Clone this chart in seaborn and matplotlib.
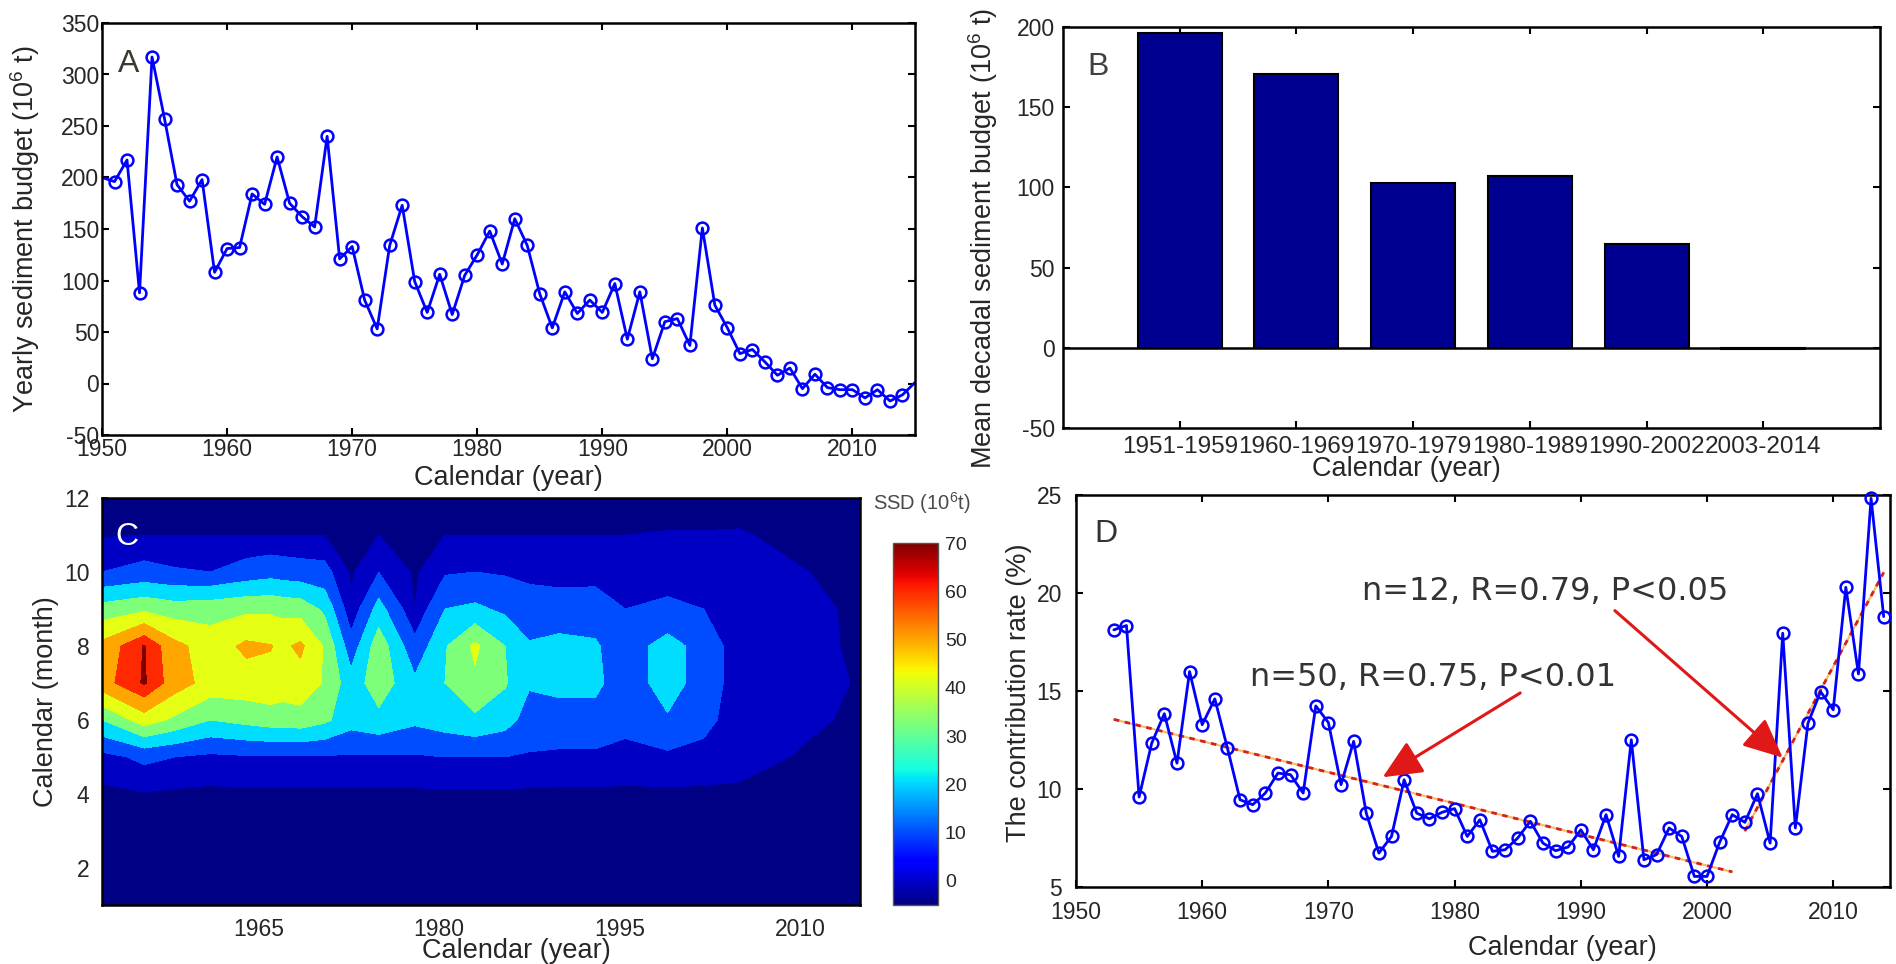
import numpy as np
import pandas as pd
import matplotlib
matplotlib.use("Agg")
import matplotlib.pyplot as plt
import seaborn as sns
from matplotlib.colors import Normalize
from matplotlib.cm import ScalarMappable

# ---------------- data ----------------
# Panel A: yearly sediment budget (10^6 t)
years_a = list(range(1950, 2016))
budget_a = [200, 196, 217, 88, 317, 257, 193, 177, 198, 108,
            131, 132, 184, 174, 220, 175, 162, 152, 240, 121,
            133, 81, 53, 134, 173, 99, 69, 106, 67, 105,
            125, 148, 116, 160, 134, 87, 54, 89, 68, 81,
            69, 97, 43, 89, 24, 60, 63, 37, 151, 76,
            54, 29, 33, 21, 8, 15, -5, 9, -4, -6,
            -6, -14, -6, -17, -11, 1]

# Panel B: mean decadal sediment budget
periods_b = ["1951-1959", "1960-1969", "1970-1979", "1980-1989", "1990-2002", "2003-2014"]
budget_b = [196, 171, 103, 107, 65, -1]

# Panel C: monthly SSD (10^6 t), rows = months 1..12, columns = years_c
years_c = [1952, 1955.5, 1958, 1961, 1964, 1966, 1967, 1968.5, 1970.5, 1972.7, 1975, 1978,
           1980.5, 1983, 1985.5, 1987.5, 1990, 1993, 1995.5, 1999, 2002, 2005, 2010, 2015]
months_c = [1, 2, 3, 4, 5, 6, 7, 8, 9, 10, 11, 12]
ssd_m01 = [0.5, 0.5, 0.5, 0.5, 0.5, 0.5, 0.5, 0.5, 0.5, 0.5, 0.5, 0.5, 0.5, 0.5, 0.5, 0.5, 0.5, 0.5, 0.5, 0.5, 0.5, 0.5, 0.5, 0.5]
ssd_m02 = [0.5, 0.8, 0.8, 0.8, 0.8, 0.8, 0.8, 0.8, 0.8, 0.8, 0.8, 0.8, 0.8, 0.8, 0.8, 0.8, 0.8, 0.8, 0.8, 0.8, 0.8, 0.8, 0.8, 0.8]
ssd_m03 = [0.8, 1, 1, 1, 1, 1, 1, 1, 1, 1, 1, 1, 1, 1, 1, 1, 1, 1, 1, 1, 1, 1, 1, 1]
ssd_m04 = [1.5, 2.5, 1.8, 1.5, 1.8, 1.8, 1.8, 1.8, 1.8, 1.8, 1.8, 1.8, 1.8, 1.8, 1.8, 1.8, 1.8, 1.8, 1.8, 1.8, 1.8, 2.5, 1.5, 1.5]
ssd_m05 = [7, 12, 10, 8, 9, 9, 9, 9, 9, 9, 9, 9, 10, 10, 10, 9, 8, 8, 7, 8, 7, 4, 2.8, 2]
ssd_m06 = [30, 45, 38, 30, 33, 35, 35, 36, 32, 24, 27, 22, 25, 28, 24, 16, 17, 17, 13, 19, 13, 5, 3.6, 2.5]
ssd_m07 = [56, 69, 55, 46, 46, 47, 45, 46, 39, 24, 36, 22, 30, 38, 31, 21, 22, 22, 15, 24, 16, 5, 4, 2.8]
ssd_m08 = [53, 68.5, 53, 45, 52, 50.5, 48, 52, 39, 14, 36, 13, 29, 42, 30, 21, 23, 21, 15, 24, 16, 5, 4, 2.5]
ssd_m09 = [34, 38, 35, 36, 38, 38, 37, 36, 28, 4, 24, 3, 20, 22, 18, 14, 14, 16, 10, 12, 10, 5, 3.8, 2.5]
ssd_m10 = [10, 13, 11, 10, 14, 16, 15, 14, 13, 2, 10, 2, 9, 10, 9, 8, 7, 6, 5, 6, 6, 4.5, 3.2, 2]
ssd_m11 = [2.5, 3, 3, 3, 3, 3, 3, 3, 3, 2, 3, 2, 3, 3, 3, 3, 3, 3, 3, 3.2, 3.2, 3.3, 2, 1.5]
ssd_m12 = [1, 1.5, 1.5, 1.5, 1.5, 1.5, 1.5, 1.5, 1.5, 1.2, 1.5, 1.2, 1.5, 1.5, 1.5, 1.5, 1.5, 1.5, 1.5, 1.5, 1.5, 1.5, 1, 1]
ssd_levels = [-5, 3, 10, 20, 30, 40, 50, 60, 68, 75]
cbar_ticks = [0, 10, 20, 30, 40, 50, 60, 70]

# Panel D: contribution rate (%)
years_d = list(range(1953, 2015))
rate_d = [18.12, 18.34, 9.59, 12.34, 13.84, 11.32, 15.99, 13.28, 14.60, 12.09,
          9.45, 9.20, 9.79, 10.81, 10.73, 9.79, 14.24, 13.39, 10.22, 12.43,
          8.77, 6.73, 7.58, 10.47, 8.77, 8.48, 8.81, 9.00, 7.58, 8.43,
          6.82, 6.90, 7.50, 8.35, 7.24, 6.85, 7.04, 7.92, 6.90, 8.69,
          6.56, 12.51, 6.39, 6.65, 8.01, 7.58, 5.54, 5.54, 7.28, 8.69,
          8.30, 9.76, 7.24, 17.95, 8.01, 13.36, 14.97, 14.04, 20.29, 15.87, 24.83, 18.80]
n_first = 50
label_1 = "n=50, R=0.75, P<0.01"
label_2 = "n=12, R=0.79, P<0.05"
label_1_pos = (1963.8, 15.7)
label_2_pos = (1972.7, 20.1)
arrow_1 = ((1985.2, 14.9), (1974.3, 10.6))
arrow_2 = ((1992.7, 19.1), (2006.0, 11.6))

# ---------------- style ----------------
sns.set_theme(style="white")
plt.rcParams["font.family"] = ["Liberation Sans", "DejaVu Sans"]
plt.rcParams["mathtext.fontset"] = "custom"
plt.rcParams["mathtext.rm"] = "Liberation Sans"
plt.rcParams["mathtext.it"] = "Liberation Sans:italic"
plt.rcParams["axes.unicode_minus"] = False
TXT = "#262626"
TICK_FS = 16.5
LAB_FS = 19.5
BLUE = "#0000ff"

W, H = 1896, 964
fig = plt.figure(figsize=(W / 100, H / 100), dpi=100)


def px_axes(l, t, r, b):
    return fig.add_axes([l / W, 1 - b / H, (r - l) / W, (b - t) / H])


def box_style(ax, pad=3, mirror=True):
    for s in ax.spines.values():
        s.set_visible(True)
        s.set_linewidth(1.8)
        s.set_color("black")
    ax.tick_params(direction="in", length=5, width=1.5, colors="black",
                   labelcolor=TXT, labelsize=TICK_FS, pad=pad,
                   top=mirror, right=mirror, bottom=True, left=True)


axA = px_axes(102, 23, 915, 435)
axB = px_axes(1063, 27, 1880, 428)
axC = px_axes(102, 498, 860, 905)
cax = px_axes(893, 543, 938, 905)
axD = px_axes(1076, 495, 1890, 887)

# ---------------- Panel A ----------------
dfA = pd.DataFrame({"year": years_a, "budget": budget_a})
sns.lineplot(data=dfA, x="year", y="budget", ax=axA, color=BLUE, linewidth=2,
             marker="o", markersize=8.5, markerfacecolor="none",
             markeredgecolor=BLUE, markeredgewidth=1.8,
             markevery=list(range(1, len(years_a) - 1)))
axA.set_xlim(1950, 2015)
axA.set_ylim(-50, 350)
axA.set_xticks(range(1950, 2011, 10))
axA.set_yticks(range(-50, 351, 50))
box_style(axA, pad=2)
axA.set_xlabel("Calendar (year)", fontsize=LAB_FS, color=TXT)
axA.set_ylabel(r"Yearly sediment budget (10$^6$ t)", fontsize=LAB_FS, color=TXT)
axA.xaxis.set_label_coords(0.5, -0.073)
axA.yaxis.set_label_coords(-0.074, 0.5)
axA.text(0.02, 0.9, "A", transform=axA.transAxes, fontsize=23, color="#3a3a30",
         va="center", ha="left")

# ---------------- Panel B ----------------
dfB = pd.DataFrame({"period": periods_b, "budget": budget_b})
sns.barplot(data=dfB, x="period", y="budget", ax=axB, color="#000090",
            saturation=1, width=0.72, edgecolor="black", linewidth=1.5)
axB.axhline(0, color="black", linewidth=1.8, zorder=3)
axB.set_xlim(-1, 6)
axB.set_ylim(-50, 200)
axB.set_yticks(range(-50, 201, 50))
box_style(axB, pad=6)
axB.tick_params(axis="x", labelsize=17.5)
axB.set_xlabel("Calendar (year)", fontsize=LAB_FS, color=TXT)
axB.set_ylabel(r"Mean decadal sediment budget (10$^6$ t)", fontsize=LAB_FS, color=TXT)
axB.xaxis.set_label_coords(0.42, -0.07)
axB.yaxis.set_label_coords(-0.077, 0.474)
axB.text(0.03, 0.9, "B", transform=axB.transAxes, fontsize=23, color="#404040",
         va="center", ha="left")

# ---------------- Panel C ----------------
Z = np.array([ssd_m01, ssd_m02, ssd_m03, ssd_m04, ssd_m05, ssd_m06,
              ssd_m07, ssd_m08, ssd_m09, ssd_m10, ssd_m11, ssd_m12])
norm = Normalize(vmin=-5, vmax=70)
jet = plt.get_cmap("jet")
band_color_values = [-4.5, -0.5, 10, 20.5, 32.5, 42, 50, 60, 70]
band_colors = [jet(norm(v)) for v in band_color_values]
axC.contourf(years_c, months_c, Z, levels=ssd_levels, colors=band_colors)
axC.set_xlim(1952, 2015)
axC.set_ylim(1, 12)
axC.set_xticks([1965, 1980, 1995, 2010])
axC.set_yticks([2, 4, 6, 8, 10, 12])
box_style(axC, pad=9, mirror=False)
axC.tick_params(length=4, width=1.2)
axC.set_xlabel("Calendar (year)", fontsize=LAB_FS, color=TXT)
axC.set_ylabel("Calendar (month)", fontsize=LAB_FS, color=TXT)
axC.xaxis.set_label_coords(0.547, -0.08)
axC.yaxis.set_label_coords(-0.057, 0.5)
axC.text(0.017, 0.905, "C", transform=axC.transAxes, fontsize=23, color="white",
         va="center", ha="left")

sm = ScalarMappable(norm=norm, cmap=jet)
cb = fig.colorbar(sm, cax=cax, ticks=cbar_ticks)
cb.outline.set_linewidth(1.0)
cb.outline.set_edgecolor("#555555")
cax.tick_params(labelsize=14, labelcolor=TXT, length=0, pad=5)
fig.text(922 / W, 1 - 503 / H, r"SSD (10$^6$t)", fontsize=14.5, color="#4a4a4a",
         ha="center", va="center")

# ---------------- Panel D ----------------
dfD = pd.DataFrame({"year": years_d, "rate": rate_d})
x1 = np.array(years_d[:n_first])
x2 = np.array(years_d[n_first:])
p1 = np.polyfit(x1, rate_d[:n_first], 1)
p2 = np.polyfit(x2, rate_d[n_first:], 1)
for xs, p in ((x1, p1), (x2, p2)):
    xe = np.array([xs[0], xs[-1]])
    axD.plot(xe, np.polyval(p, xe), color="#f2b040", linewidth=1.6, alpha=0.8, zorder=2)
    axD.plot(xe, np.polyval(p, xe), color="#d42020", linewidth=2.0,
             linestyle=(0, (2, 2)), zorder=2.1)
sns.lineplot(data=dfD, x="year", y="rate", ax=axD, color=BLUE, linewidth=2,
             marker="o", markersize=8.5, markerfacecolor="none",
             markeredgecolor=BLUE, markeredgewidth=1.8, zorder=3, clip_on=False)
axD.set_xlim(1950, 2014.5)
axD.set_ylim(5, 25)
axD.set_xticks(range(1950, 2011, 10))
axD.set_yticks(range(5, 26, 5))
box_style(axD, pad=10)
axD.set_xlabel("Calendar (year)", fontsize=LAB_FS, color=TXT)
axD.set_ylabel("The contribution rate (%)", fontsize=LAB_FS, color=TXT)
axD.xaxis.set_label_coords(0.598, -0.122)
axD.yaxis.set_label_coords(-0.054, 0.495)
axD.text(0.023, 0.9, "D", transform=axD.transAxes, fontsize=23, color="#333333",
         va="center", ha="left")
for (txt, pos) in ((label_1, label_1_pos), (label_2, label_2_pos)):
    axD.text(pos[0], pos[1], txt, fontsize=23, color="#333333", va="center",
             ha="left", family="DejaVu Sans", zorder=5)
for tail, head in (arrow_1, arrow_2):
    axD.annotate("", xy=head, xytext=tail,
                 arrowprops=dict(arrowstyle="-|>,head_length=1.1,head_width=0.5",
                                 color="#e01818", linewidth=2.2,
                                 mutation_scale=22, shrinkA=0, shrinkB=0),
                 zorder=6)

fig.savefig("out.png", dpi=100)
